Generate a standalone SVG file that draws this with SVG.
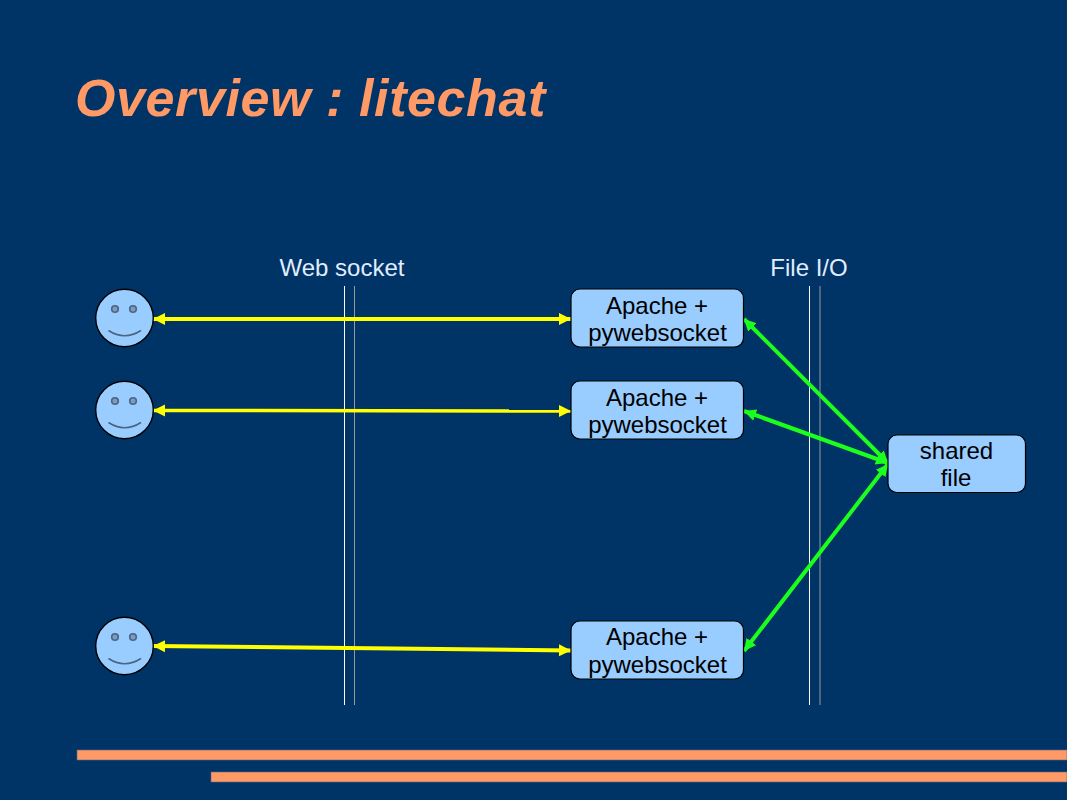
<svg xmlns="http://www.w3.org/2000/svg" width="1067" height="800" viewBox="0 0 1067 800">
<style>
text{font-family:"Liberation Sans",Arial,sans-serif}
.lbl{font-size:24px;fill:#000;text-anchor:middle}
.cap{font-size:24px;fill:#e0edff;text-anchor:middle}
.box{fill:#99ccff;stroke:#000;stroke-width:1.2}
.face{fill:#99ccff;stroke:#000;stroke-width:1.4}
.eye{fill:#7a9cc0;stroke:#4d6480;stroke-width:1.6}
.mouth{fill:none;stroke:#4d6480;stroke-width:1.6}
.y{stroke:#ffff00;stroke-width:4;fill:none;marker-start:url(#ya);marker-end:url(#ya)}
.g{stroke:#1cff1c;stroke-width:4;fill:none;marker-start:url(#ga);marker-end:url(#ga)}
</style>
<defs>
<marker id="ya" markerUnits="userSpaceOnUse" markerWidth="14" markerHeight="14" refX="12" refY="7" orient="auto-start-reverse"><path d="M0,1L12,7L0,13z" fill="#ffff00"/></marker>
<marker id="ga" markerUnits="userSpaceOnUse" markerWidth="14" markerHeight="14" refX="12" refY="7" orient="auto-start-reverse"><path d="M0,1L12,7L0,13z" fill="#1cff1c"/></marker>
</defs>
<rect width="1067" height="800" fill="#003366"/>
<text x="75" y="116" font-size="52" letter-spacing="0.6" font-weight="bold" font-style="italic" fill="#ff9966">Overview : litechat</text>
<rect x="77" y="750" width="990" height="10" fill="#ff9966" stroke="#5c6b80" stroke-width="0.6"/>
<rect x="211" y="772" width="856" height="10" fill="#ff9966" stroke="#5c6b80" stroke-width="0.6"/>
<text class="cap" x="342" y="276">Web socket</text>
<text class="cap" x="809" y="276">File I/O</text>
<g id="dividers" stroke-width="1">
<path d="M344.500 286V705M809.500 286V705" stroke="#ffffff"/>
<path d="M354.500 286V705M820 286V705" stroke="#999999"/>
</g>
<g id="connectors">
<path class="y" d="M153 319H571"/>
<path class="y" style="stroke-width:3.500" d="M153 410.500L571 411"/>
<path class="y" d="M153 646L571 650.500"/>
<path class="g" d="M744 319L888 463"/>
<path class="g" d="M744 411L888 463"/>
<path class="g" d="M744 651L888 464"/>
</g>
<g id="user1"><circle class="face" cx="124.500" cy="318" r="28.800"/><circle class="eye" cx="115" cy="309" r="3.300"/><circle class="eye" cx="133" cy="309" r="3.300"/><path class="mouth" d="M108.500 330.500Q124.500 341 141 330.500"/></g>
<g id="user2"><circle class="face" cx="124.500" cy="410" r="28.800"/><circle class="eye" cx="115" cy="401" r="3.300"/><circle class="eye" cx="133" cy="401" r="3.300"/><path class="mouth" d="M108.500 422.500Q124.500 433 141 422.500"/></g>
<g id="user3"><circle class="face" cx="124.500" cy="646" r="28.800"/><circle class="eye" cx="115" cy="637" r="3.300"/><circle class="eye" cx="133" cy="637" r="3.300"/><path class="mouth" d="M108.500 658.500Q124.500 669 141 658.500"/></g>
<g id="server1"><rect class="box" x="571" y="289" width="172.500" height="58" rx="9"/><text class="lbl" x="657" y="314">Apache +</text><text class="lbl" x="657.500" y="341">pywebsocket</text></g>
<g id="server2"><rect class="box" x="571" y="381" width="172.500" height="58" rx="9"/><text class="lbl" x="657" y="406">Apache +</text><text class="lbl" x="657.500" y="433">pywebsocket</text></g>
<g id="server3"><rect class="box" x="571" y="621" width="172.500" height="58" rx="9"/><text class="lbl" x="657" y="645">Apache +</text><text class="lbl" x="657.500" y="673">pywebsocket</text></g>
<g id="shared"><rect class="box" x="888" y="435" width="137.500" height="57.500" rx="9"/><text class="lbl" x="956.500" y="459">shared</text><text class="lbl" x="956" y="486">file</text></g>
</svg>
